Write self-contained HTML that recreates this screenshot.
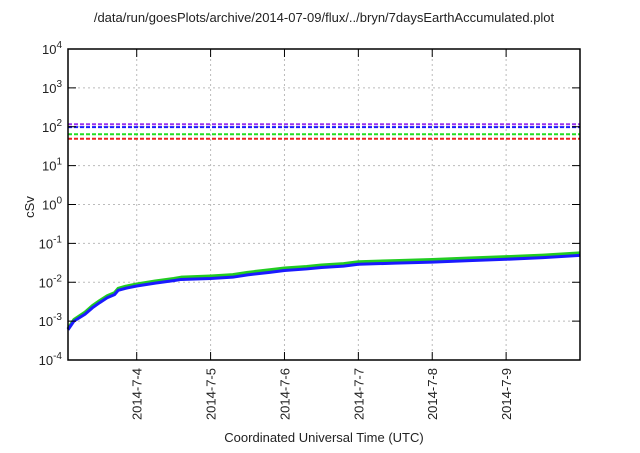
<!DOCTYPE html>
<html><head><meta charset="utf-8"><style>
body{margin:0;background:#fff;}
svg{font-family:"Liberation Sans",sans-serif;}
</style></head><body>
<svg id="chart" width="640" height="448" xmlns="http://www.w3.org/2000/svg">
<text x="324" y="22" text-anchor="middle" font-size="13" fill="#222">/data/run/goesPlots/archive/2014-07-09/flux/../bryn/7daysEarthAccumulated.plot</text>
<text x="324" y="442" text-anchor="middle" font-size="13" fill="#222">Coordinated Universal Time (UTC)</text>
<text transform="translate(34,207) rotate(-90)" text-anchor="middle" font-size="13" fill="#222">cSv</text>
<g id="grid"></g><g id="series"></g><g id="axes"></g>
</svg>
<script>
const yExps=[-4,-3,-2,-1,0,1,2,3,4];
const xTickDays=[4,5,6,7,8,9];
const xTickLabels=["2014-7-4","2014-7-5","2014-7-6","2014-7-7","2014-7-8","2014-7-9"];
const thresholdNames=["purple","blue","green","red"];
const thresholdValues=[116,98,64,49];
const thresholdColors=["#9933ee","#1a1aff","#22dd22","#ee2222"];
const curveDays=[3.07,3.15,3.3,3.4,3.5,3.6,3.7,3.75,3.85,4.0,4.25,4.5,4.6,5.0,5.3,5.5,5.8,6.0,6.3,6.5,6.8,7.0,7.5,8.0,8.5,9.0,9.5,10.0];
const blueValues=[0.0006,0.001,0.0015,0.0022,0.003,0.004,0.0048,0.0062,0.007,0.008,0.0095,0.011,0.0118,0.0125,0.0135,0.0155,0.018,0.02,0.022,0.024,0.026,0.029,0.031,0.033,0.036,0.039,0.043,0.049];
const greenValues=[0.00065,0.0011,0.0017,0.0025,0.0034,0.0045,0.0054,0.007,0.0079,0.009,0.0108,0.0125,0.0135,0.0145,0.0157,0.018,0.021,0.0232,0.0255,0.0278,0.0302,0.0337,0.036,0.0385,0.042,0.0455,0.05,0.057];
const redValues=[0.00063,0.00105,0.0016,0.0024,0.0032,0.0043,0.0051,0.0066,0.0075,0.0085,0.0102,0.0118,0.0127,0.0136,0.0147,0.0168,0.0196,0.0217,0.0238,0.026,0.0282,0.0315,0.0336,0.036,0.039,0.0425,0.047,0.054];
const L=68,R=580,T=49,B=360,D0=3.07,D1=10;
const xs=d=>L+(d-D0)/(D1-D0)*(R-L);
const ys=v=>B-(Math.log10(v)+4)/8*(B-T);
const NS="http://www.w3.org/2000/svg";
function mk(tag,attrs,parent){const e=document.createElementNS(NS,tag);for(const k in attrs)e.setAttribute(k,attrs[k]);parent.appendChild(e);return e;}
const grid=document.getElementById('grid'),ser=document.getElementById('series'),ax=document.getElementById('axes');
yExps.forEach(e=>{const y=ys(Math.pow(10,e));
 if(e>-4&&e<4){const g=mk('line',{x1:L,x2:R,y1:y,y2:y,stroke:'#bbb','stroke-dasharray':'2,3','stroke-width':1},grid);
 
 }
 const t1=mk('line',{x1:L,x2:L+8,y1:y,y2:y,stroke:'#000'},ax);
 
 
 const t2=mk('line',{x1:R-8,x2:R,y1:y,y2:y,stroke:'#000'},ax);
 
 
 const tx=mk('text',{x:L-6,y:y+5,'text-anchor':'end','font-size':13,fill:'#222'},ax);
 
 
 tx.textContent='10';const sp=mk('tspan',{dy:-6,'font-size':10},tx);sp.textContent=String(e);
});
xTickDays.forEach((d,i)=>{const x=xs(d);
 const g=mk('line',{x1:x,x2:x,y1:T,y2:B,stroke:'#bbb','stroke-dasharray':'2,3'},grid);
 
 
 const t=mk('line',{x1:x,x2:x,y1:B-8,y2:B,stroke:'#000'},ax);
 
 
 const t2=mk('line',{x1:x,x2:x,y1:T,y2:T+8,stroke:'#000'},ax);
 
 
 const tx=mk('text',{transform:`translate(${x+5},${B+8}) rotate(-90)`,'text-anchor':'end','font-size':13,fill:'#222'},ax);
 
 
 tx.textContent=xTickLabels[i];
});
thresholdValues.forEach((v,i)=>{const y=ys(v);
 const l=mk('line',{x1:L,x2:R,y1:y,y2:y,stroke:thresholdColors[i],'stroke-width':2,'stroke-dasharray':'4,2'},ser);
 
 
});
[[redValues,'#ee2222','red'],[greenValues,'#22cc22','green'],[blueValues,'#1a1aff','blue']].forEach(([vals,c,n])=>{
 const p=mk('polyline',{points:curveDays.map((d,i)=>xs(d)+','+ys(vals[i])).join(' '),fill:'none',stroke:c,'stroke-width':3,'stroke-linejoin':'round'},ser);
 
 
});
const f=mk('rect',{x:L,y:T,width:R-L,height:B-T,fill:'none',stroke:'#000','stroke-width':1.5},ax);


</script>
</body></html>
